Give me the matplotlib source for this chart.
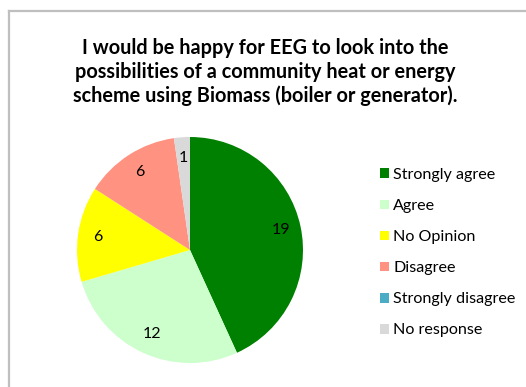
import matplotlib
matplotlib.use("Agg")
import matplotlib.pyplot as plt
from matplotlib.patches import Patch
from matplotlib.lines import Line2D

title = ("I would be happy for EEG to look into the\n"
         "possibilities of a community heat or energy\n"
         "scheme using Biomass (boiler or generator).")
categories = ["Strongly agree", "Agree", "No Opinion", "Disagree",
              "Strongly disagree", "No response"]
counts = [19, 12, 6, 6, 0, 1]
colors = ["#008000", "#CCFFCC", "#FFFF00", "#FF9280", "#4BACC6", "#D9D9D9"]

plt.rcParams["font.family"] = ["Lato", "DejaVu Sans"]

W, H = 526, 387
fig = plt.figure(figsize=(W / 100, H / 100), dpi=100)
fig.patch.set_facecolor("white")

# chart area border (open to the right and bottom)
fig.add_artist(Line2D([9 / W, 9 / W], [0, 1 - 11 / H], transform=fig.transFigure,
                      color="#BFBFBF", lw=1.6))
fig.add_artist(Line2D([9 / W, 1], [1 - 11 / H, 1 - 11 / H], transform=fig.transFigure,
                      color="#BFBFBF", lw=1.6))

fig.text(265 / W, 1 - 72 / H, title, ha="center", va="center",
         fontsize=14.3, fontweight="bold", linespacing=1.25, color="#000000")

cx, cy, r = 190, 250, 113
ax = fig.add_axes([(cx - r) / W, (H - cy - r) / H, 2 * r / W, 2 * r / H])
total = sum(counts)


def fmt(p):
    v = round(p * total / 100)
    return f"{v}" if v > 0 else ""


wedges, _, autotexts = ax.pie(counts, colors=colors, startangle=90,
                              counterclock=False, autopct=fmt,
                              pctdistance=0.82,
                              textprops=dict(fontsize=11.5, color="black"),
                              wedgeprops=dict(linewidth=0))
ax.set_xlim(-1, 1)
ax.set_ylim(-1, 1)
ax.set_aspect("equal")

handles = [Patch(facecolor=c, edgecolor="none") for c in colors]
fig.legend(handles, categories, loc="upper left",
           bbox_to_anchor=(372 / W, 1 - 160 / H), frameon=False,
           fontsize=11.6, handlelength=0.56, handleheight=0.56,
           handletextpad=0.25, labelspacing=1.06, borderpad=0)

fig.savefig("out.png", dpi=100, facecolor="white")
